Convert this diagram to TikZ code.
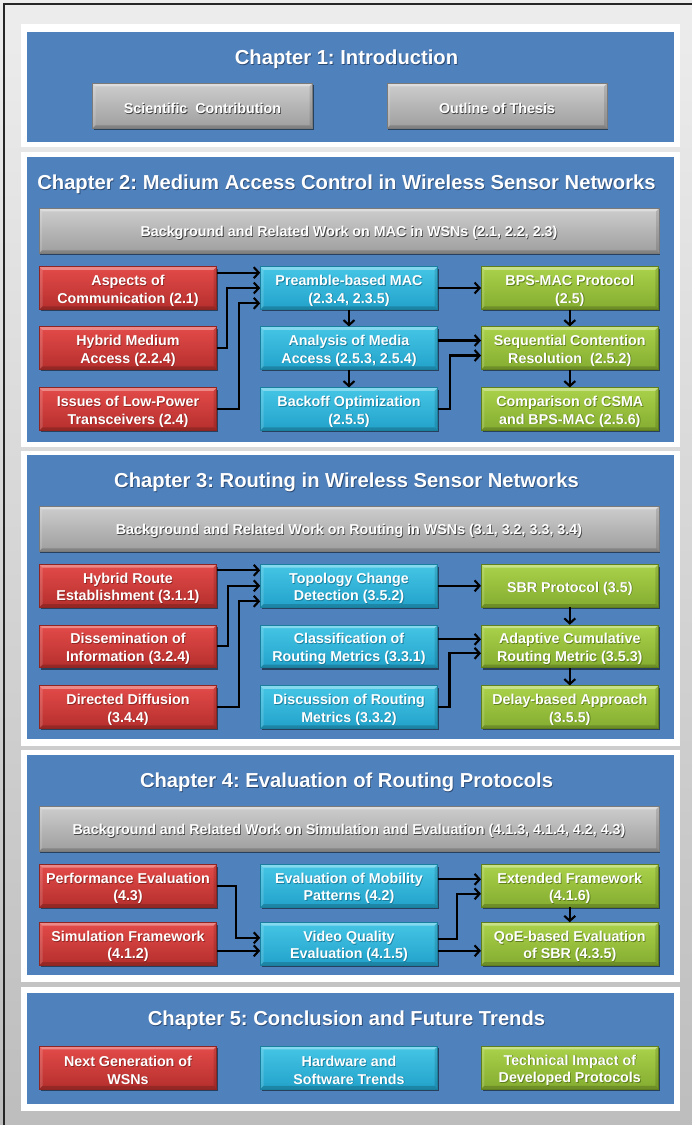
\documentclass[tikz,border=0pt]{standalone}
\usepackage{fontspec}
\setmainfont{Liberation Sans}
\usetikzlibrary{arrows.meta,shadows}
\frenchspacing

\definecolor{bgtop}{HTML}{EDEDED}
\definecolor{bgbot}{HTML}{BDBDBD}
\definecolor{panelblue}{HTML}{4F81BD}
\definecolor{titleshade}{HTML}{2B4A73}
\definecolor{redtop}{HTML}{E34B49}
\definecolor{redbot}{HTML}{B52F2D}
\definecolor{rededge}{HTML}{8E2523}
\definecolor{cyantop}{HTML}{45C6E6}
\definecolor{cyanbot}{HTML}{22A2CA}
\definecolor{cyanedge}{HTML}{1A7E9E}
\definecolor{greentop}{HTML}{ABD24A}
\definecolor{greenbot}{HTML}{84AC30}
\definecolor{greenedge}{HTML}{5F7F1C}
\definecolor{greytop}{HTML}{CDCDCD}
\definecolor{greybot}{HTML}{9E9E9E}
\definecolor{greyedge}{HTML}{7A7A7A}
\colorlet{shc}{black!60}

% white text with a small dark offset copy underneath
\newcommand\stxt[1]{\makebox[0pt][l]{\kern0.8pt\smash{\raisebox{-0.8pt}{\textcolor{shc}{#1}}}}#1}
% first line of a box: a taller strut lowers the whole text block a little
\newcommand\ftxt[1]{\rule{0pt}{15.4pt}\stxt{#1}}

\tikzset{
  box/.style={rectangle, inner sep=0pt, minimum width=177pt, minimum height=42.5pt,
    align=center, text=white, line width=0.6pt,
    font=\fontsize{14.3}{17.6}\selectfont\bfseries,
    drop shadow={shadow xshift=1.2pt, shadow yshift=-2pt, opacity=0.5, fill=black},
    path picture={
      \fill[white,opacity=0.35] (path picture bounding box.north west) -- (path picture bounding box.north east)
        -- ([xshift=-3pt,yshift=-3pt]path picture bounding box.north east) -- ([xshift=3pt,yshift=-3pt]path picture bounding box.north west) -- cycle;
      \fill[white,opacity=0.15] (path picture bounding box.north west) -- (path picture bounding box.south west)
        -- ([xshift=3pt,yshift=3pt]path picture bounding box.south west) -- ([xshift=3pt,yshift=-3pt]path picture bounding box.north west) -- cycle;
      \fill[black,opacity=0.18] (path picture bounding box.south west) -- (path picture bounding box.south east)
        -- ([xshift=-3pt,yshift=3pt]path picture bounding box.south east) -- ([xshift=3pt,yshift=3pt]path picture bounding box.south west) -- cycle;
      \fill[black,opacity=0.12] (path picture bounding box.north east) -- (path picture bounding box.south east)
        -- ([xshift=-3pt,yshift=3pt]path picture bounding box.south east) -- ([xshift=-3pt,yshift=-3pt]path picture bounding box.north east) -- cycle;
    }},
  redbox/.style={box, top color=redtop, bottom color=redbot, draw=rededge,
    execute at begin node={\colorlet{shc}{rededge}}},
  cyanbox/.style={box, top color=cyantop, bottom color=cyanbot, draw=cyanedge,
    execute at begin node={\colorlet{shc}{cyanedge}}},
  greenbox/.style={box, top color=greentop, bottom color=greenbot, draw=greenedge,
    execute at begin node={\colorlet{shc}{greenedge}}},
  greybox/.style={box, top color=greytop, bottom color=greybot, draw=greyedge,
    text=white, execute at begin node={\colorlet{shc}{black!75}}},
  bar/.style={greybox, minimum width=620pt, minimum height=45pt},
  chbtn/.style={greybox, minimum width=220pt, minimum height=45pt},
  title/.style={anchor=base, inner sep=0pt, text=white,
    font=\fontsize{20.2}{24}\selectfont\bfseries,
    execute at begin node={\colorlet{shc}{titleshade}}},
  conn/.style={line width=2.1pt, black, -{Straight Barb[length=5pt,width=11pt]}},
  frame/.style={fill=white},
  panel/.style={fill=panelblue},
}

\begin{document}
\begin{tikzpicture}[x=1pt,y=-1pt]
\useasboundingbox (0,0) rectangle (691.95,1125);
\shade[top color=bgtop, bottom color=bgbot] (-6,-6) rectangle (699,1131);
\draw[line width=1.2pt, black!85] (4,1131) -- (4,4) -- (699,4);

% chapter panels: white frame with blue face
\fill[frame] (20.7,24) rectangle (679.5,147);
\fill[panel] (27.3,32) rectangle (673.5,142);
\fill[frame] (20.7,151.5) rectangle (679.5,446.7);
\fill[panel] (27.3,157.3) rectangle (673.5,441.5);
\fill[frame] (20.7,450.5) rectangle (679.5,746);
\fill[panel] (27.3,455) rectangle (673.5,738.7);
\fill[frame] (20.7,750) rectangle (679.5,981.7);
\fill[panel] (27.3,755) rectangle (673.5,975);
\fill[frame] (20.7,986.7) rectangle (679.5,1110.7);
\fill[panel] (27.3,993.3) rectangle (673.5,1104);

% Chapter 1
\node[title] (t1) at (346.5,64.3) {\stxt{Chapter 1: Introduction}};
\node[chbtn] (sc) at (202.5,105.8) {\ftxt{Scientific\ \ Contribution}};
\node[chbtn] (ot) at (497,105.8) {\ftxt{Outline of Thesis}};

% Chapter 2
\node[title] (t2) at (346.5,189.3) {\stxt{Chapter 2: Medium Access Control in Wireless Sensor Networks}};
\node[bar] (b2) at (349,230.8) {\ftxt{Background and Related Work on MAC in WSNs (2.1, 2.2, 2.3)}};
\node[redbox] (r21) at (128,288) {\ftxt{Aspects of}\\\stxt{Communication (2.1)}};
\node[redbox] (r22) at (128,348) {\ftxt{Hybrid Medium}\\\stxt{Access (2.2.4)}};
\node[redbox] (r23) at (128,409) {\ftxt{Issues of Low-Power}\\\stxt{Transceivers (2.4)}};
\node[cyanbox] (c21) at (349,288) {\ftxt{Preamble-based MAC}\\\stxt{(2.3.4, 2.3.5)}};
\node[cyanbox] (c22) at (349,348) {\ftxt{Analysis of Media}\\\stxt{Access (2.5.3, 2.5.4)}};
\node[cyanbox] (c23) at (349,409) {\ftxt{Backoff Optimization}\\\stxt{(2.5.5)}};
\node[greenbox] (g21) at (569.8,288) {\ftxt{BPS-MAC Protocol}\\\stxt{(2.5)}};
\node[greenbox] (g22) at (569.8,348) {\ftxt{Sequential Contention}\\\stxt{Resolution\ \ (2.5.2)}};
\node[greenbox] (g23) at (569.8,409) {\ftxt{Comparison of CSMA}\\\stxt{and BPS-MAC (2.5.6)}};

\draw[conn] ([yshift=15.3pt]r21.east) -- ([yshift=15.3pt]c21.west);
\draw[conn] (r22.east) -- ++(10.2pt,0pt) |- (c21.west);
\draw[conn] (r23.east) -- ++(21.8pt,0pt) |- ([yshift=-15.3pt]c21.west);
\draw[conn] (c21.east) -- (g21.west);
\draw[conn] (c21.south) -- (c22.north);
\draw[conn] (c22.south) -- (c23.north);
\draw[conn] (g21.south) -- (g22.north);
\draw[conn] (g22.south) -- (g23.north);
\draw[conn] ([yshift=7.5pt]c22.east) -- ([yshift=7.5pt]g22.west);
\draw[conn] (c23.east) -- ++(11.8pt,0pt) |- ([yshift=-7.5pt]g22.west);

% Chapter 3
\node[title] (t3) at (346.5,487.3) {\stxt{Chapter 3: Routing in Wireless Sensor Networks}};
\node[bar] (b3) at (349,528.8) {\ftxt{Background and Related Work on Routing in WSNs (3.1, 3.2, 3.3, 3.4)}};
\node[redbox] (r31) at (128,585.8) {\ftxt{Hybrid Route}\\\stxt{Establishment (3.1.1)}};
\node[redbox] (r32) at (128,646.3) {\ftxt{Dissemination of}\\\stxt{Information (3.2.4)}};
\node[redbox] (r33) at (128,707) {\ftxt{Directed Diffusion}\\\stxt{(3.4.4)}};
\node[cyanbox] (c31) at (349,585.8) {\ftxt{Topology Change}\\\stxt{Detection (3.5.2)}};
\node[cyanbox] (c32) at (349,646.3) {\ftxt{Classification of}\\\stxt{Routing Metrics (3.3.1)}};
\node[cyanbox] (c33) at (349,707) {\ftxt{Discussion of Routing}\\\stxt{Metrics (3.3.2)}};
\node[greenbox] (g31) at (569.8,585.8) {\ftxt{SBR Protocol (3.5)}};
\node[greenbox] (g32) at (569.8,646.3) {\ftxt{Adaptive Cumulative}\\\stxt{Routing Metric (3.5.3)}};
\node[greenbox] (g33) at (569.8,707) {\ftxt{Delay-based Approach}\\\stxt{(3.5.5)}};

\draw[conn] ([yshift=15.5pt]r31.east) -- ([yshift=15.5pt]c31.west);
\draw[conn] (r32.east) -- ++(10.8pt,0pt) |- (c31.west);
\draw[conn] (r33.east) -- ++(21.8pt,0pt) |- ([yshift=-15.5pt]c31.west);
\draw[conn] (c31.east) -- (g31.west);
\draw[conn] (g31.south) -- (g32.north);
\draw[conn] (g32.south) -- (g33.north);
\draw[conn] ([yshift=7pt]c32.east) -- ([yshift=7pt]g32.west);
\draw[conn] (c33.east) -- ++(11.7pt,0pt) |- ([yshift=-7pt]g32.west);

% Chapter 4
\node[title] (t4) at (346.5,787.3) {\stxt{Chapter 4: Evaluation of Routing Protocols}};
\node[bar] (b4) at (349,828.8) {\ftxt{Background and Related Work on Simulation and Evaluation (4.1.3, 4.1.4, 4.2, 4.3)}};
\node[redbox] (r41) at (128,885.8) {\ftxt{Performance Evaluation}\\\stxt{(4.3)}};
\node[redbox] (r42) at (128,943.8) {\ftxt{Simulation Framework}\\\stxt{(4.1.2)}};
\node[cyanbox] (c41) at (349,885.8) {\ftxt{Evaluation of Mobility}\\\stxt{Patterns (4.2)}};
\node[cyanbox] (c42) at (349,943.8) {\ftxt{Video Quality}\\\stxt{Evaluation (4.1.5)}};
\node[greenbox] (g41) at (569.8,885.8) {\ftxt{Extended Framework}\\\stxt{(4.1.6)}};
\node[greenbox] (g42) at (569.8,943.8) {\ftxt{QoE-based Evaluation}\\\stxt{of SBR (4.3.5)}};

\draw[conn] (r41.east) -- ++(19.5pt,0pt) |- ([yshift=6pt]c42.west);
\draw[conn] ([yshift=-7pt]r42.east) -- ([yshift=-7pt]c42.west);
\draw[conn] ([yshift=6.5pt]c41.east) -- ([yshift=6.5pt]g41.west);
\draw[conn] ([yshift=5pt]c42.east) -- ++(19.3pt,0pt) |- ([yshift=-8pt]g41.west);
\draw[conn] ([yshift=-7pt]c42.east) -- ([yshift=-7pt]g42.west);
\draw[conn] (g41.south) -- (g42.north);

% Chapter 5
\node[title] (t5) at (346.5,1025.7) {\stxt{Chapter 5: Conclusion and Future Trends}};
\node[redbox] (r51) at (128,1067.6) {\ftxt{Next Generation of}\\\stxt{WSNs}};
\node[cyanbox] (c51) at (349,1067.6) {\ftxt{Hardware and}\\\stxt{Software Trends}};
\node[greenbox] (g51) at (569.8,1067.6) {\ftxt{Technical Impact of}\\\stxt{Developed Protocols}};
\end{tikzpicture}
\end{document}
